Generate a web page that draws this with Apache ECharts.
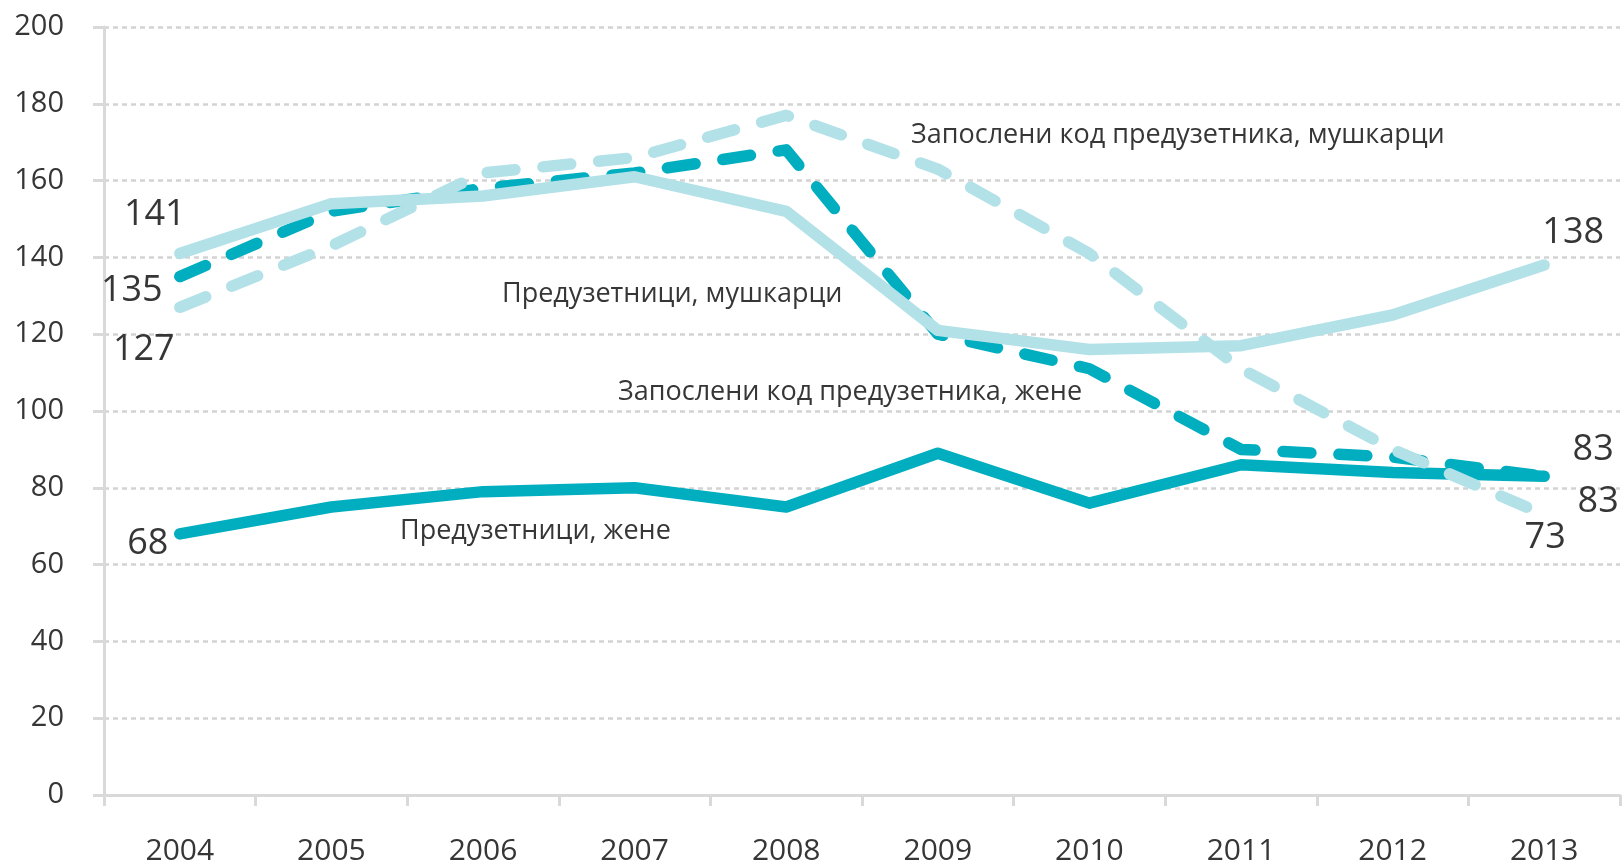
<!DOCTYPE html>
<html>
<head>
<meta charset="utf-8">
<script src="https://cdn.jsdelivr.net/npm/echarts@6/dist/echarts.min.js"></script>
<style>
html,body{margin:0;padding:0;background:#fff;}
#chart{width:1622px;height:866px;}
</style>
</head>
<body>
<div id="chart"></div>
<script>
// ---- data ----
var years = ['2004','2005','2006','2007','2008','2009','2010','2011','2012','2013'];
var entrepreneursMen   = [141, 154, 156, 161, 152, 121, 116, 117, 125, 138];
var employeesWomen     = [135, 152, 158, 162, 168, 120, 111, 90, 88, 83];
var entrepreneursWomen = [68, 75, 79, 80, 75, 89, 76, 86, 84, 83];
var employeesMen       = [127, 143, 162, 166, 177, 163, 141, 111, 90, 73];
var yTicks = [0, 200, 20];

var nameEntMen = 'Предузетници, мушкарци';
var nameEmpWomen = 'Запослени код предузетника, жене';
var nameEntWomen = 'Предузетници, жене';
var nameEmpMen = 'Запослени код предузетника, мушкарци';

var DARK = '#00aebf';
var LIGHT = '#b2e1e8';
var TXT = '#363636';
var FONT = '"Open Sans", "DejaVu Sans", sans-serif';

function withEndLabels(values, firstOffset, lastOffset) {
  return values.map(function (v, i) {
    var item = { value: v };
    if (i === 0 || i === values.length - 1) {
      item.label = {
        show: true,
        position: 'inside',
        offset: i === 0 ? firstOffset : lastOffset,
        color: TXT,
        fontSize: 36,
        fontFamily: FONT
      };
    }
    return item;
  });
}

function lineSeries(name, values, color, dashed, z, firstOffset, lastOffset) {
  return {
    name: name,
    type: 'line',
    data: withEndLabels(values, firstOffset, lastOffset),
    symbol: 'circle',
    symbolSize: 1,
    showSymbol: true,
    itemStyle: { color: 'rgba(0,0,0,0)' },
    lineStyle: {
      color: color,
      width: 11.5,
      type: dashed ? [28, 28] : 'solid',
      cap: 'round',
      join: 'round'
    },
    label: { show: false },
    z: z,
    silent: true
  };
}

var chart = echarts.init(document.getElementById('chart'), null, { renderer: 'canvas' });
var option = {
  animation: false,
  backgroundColor: '#ffffff',
  grid: { left: 104, right: 2, top: 27, bottom: 69 },
  xAxis: {
    type: 'category',
    data: years,
    boundaryGap: true,
    axisLine: { show: true, lineStyle: { color: '#d9d9d9', width: 3 } },
    axisTick: { show: true, length: 11, interval: 0, lineStyle: { color: '#d9d9d9', width: 3 } },
    axisLabel: { color: TXT, fontSize: 30, fontFamily: FONT, margin: 41, interval: 0 },
    splitLine: { show: false }
  },
  yAxis: {
    type: 'value',
    min: yTicks[0],
    max: yTicks[1],
    interval: yTicks[2],
    axisLine: { show: true, lineStyle: { color: '#d9d9d9', width: 3 } },
    axisTick: { show: true, length: 11, lineStyle: { color: '#d9d9d9', width: 3 } },
    axisLabel: { color: TXT, fontSize: 29, fontFamily: FONT, margin: 40 },
    splitLine: { show: true, lineStyle: { color: '#d3d3d3', width: 2.5, type: [5, 4] } }
  },
  series: [
    lineSeries(nameEntWomen, entrepreneursWomen, DARK, false, 2, [-32, 10], [54, 25]),
    lineSeries(nameEmpWomen, employeesWomen, DARK, true, 3, [-48, 14], [49, -27]),
    lineSeries(nameEntMen, entrepreneursMen, LIGHT, false, 4, [-25, -39], [29, -32]),
    lineSeries(nameEmpMen, employeesMen, LIGHT, true, 5, [-36, 42], [1, 23])
  ],
  graphic: [
    { type: 'text', left: 911, top: 122, style: { text: nameEmpMen, fill: TXT, font: '27px ' + FONT } },
    { type: 'text', left: 502, top: 281, style: { text: nameEntMen, fill: TXT, font: '27px ' + FONT } },
    { type: 'text', left: 618, top: 379, style: { text: nameEmpWomen, fill: TXT, font: '27px ' + FONT } },
    { type: 'text', left: 400, top: 518, style: { text: nameEntWomen, fill: TXT, font: '27px ' + FONT } }
  ]
};
chart.setOption(option);
</script>
</body>
</html>
